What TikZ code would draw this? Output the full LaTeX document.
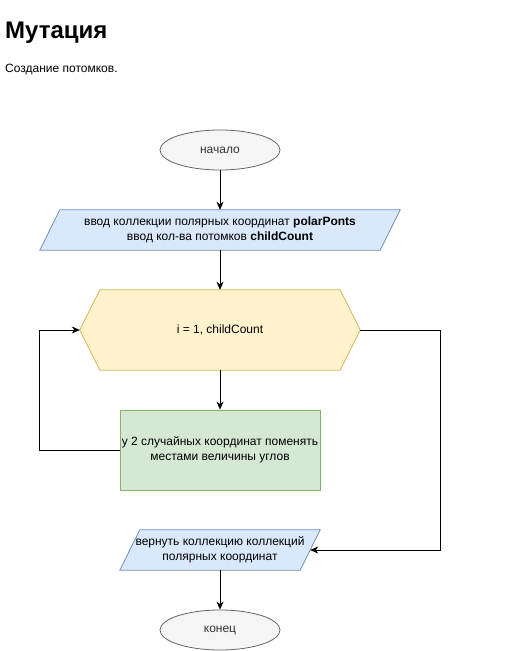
\documentclass[tikz,border=0pt]{standalone}
\usepackage{fontspec}
\setmainfont{Liberation Sans}
\usetikzlibrary{arrows.meta,shapes.geometric,calc}
\pgfdeclarelayer{background}
\pgfsetlayers{background,main}

\definecolor{termfill}{HTML}{F5F5F5}
\definecolor{termline}{HTML}{666666}
\definecolor{termtext}{HTML}{333333}
\definecolor{iofill}{HTML}{DAE8FC}
\definecolor{ioline}{HTML}{6C8EBF}
\definecolor{loopfill}{HTML}{FFF2CC}
\definecolor{loopline}{HTML}{D6B656}
\definecolor{actfill}{HTML}{D5E8D4}
\definecolor{actline}{HTML}{82B366}

\begin{document}
\begin{tikzpicture}[x=1pt,y=-1pt,
  every node/.style={font=\fontsize{12}{15}\selectfont, align=center, inner sep=0pt},
  terminal/.style={ellipse, draw=termline, fill=termfill, text=termtext,
    minimum width=120pt, minimum height=40pt, line width=0.8pt},
  frame/.style 2 args={rectangle, minimum width=#1, minimum height=#2},
  actbox/.style={rectangle, draw=actline, fill=actfill, line width=0.8pt,
    minimum width=200pt, minimum height=80pt},
  ioshape/.style={fill=iofill, draw=ioline, line width=0.8pt},
  loopshape/.style={fill=loopfill, draw=loopline, line width=0.8pt},
  flow/.style={draw=black, line width=0.8pt,
    -{Stealth[length=8pt,width=7pt,inset=2.5pt]}}
]
\useasboundingbox (0,0) rectangle (520,651);

% heading
\node[anchor=base west, font=\fontsize{24}{28}\selectfont\bfseries] (title) at (5,38) {Мутация};
\node[anchor=base west] (subtitle) at (5,72) {Создание потомков.};

% flowchart nodes
\node[terminal] (start) at (220,150) {начало};
\node[frame={340pt}{40pt}] (in) at (220,230)
  {ввод коллекции полярных координат \textbf{polarPonts}\\ввод кол-ва потомков \textbf{childCount}};
\node[frame={280pt}{80pt}] (loop) at (220,330) {i = 1, childCount};
\node[actbox] (act) at (220,450) {у 2 случайных координат поменять\\местами величины углов};
\node[frame={180pt}{40pt}] (out) at (220,550) {вернуть коллекцию коллекций\\полярных координат};
\node[terminal] (end) at (220,630) {конец};

% parallelograms and loop hexagon behind the texts
\begin{pgfonlayer}{background}
  \filldraw[ioshape] ($(in.north west)+(10,0)$) -- ($(in.north east)+(10,0)$)
    -- ($(in.south east)+(-10,0)$) -- ($(in.south west)+(-10,0)$) -- cycle;
  \filldraw[ioshape] ($(out.north west)+(10,0)$) -- ($(out.north east)+(10,0)$)
    -- ($(out.south east)+(-10,0)$) -- ($(out.south west)+(-10,0)$) -- cycle;
  \filldraw[loopshape] (loop.west) -- ($(loop.north west)+(20,0)$)
    -- ($(loop.north east)+(-20,0)$) -- (loop.east)
    -- ($(loop.south east)+(-20,0)$) -- ($(loop.south west)+(20,0)$) -- cycle;
\end{pgfonlayer}

% connectors
\draw[flow] (start) -- (in);
\draw[flow] (in) -- (loop);
\draw[flow] (loop) -- (act);
\draw[flow] (act.west) -- ++(-80,0) |- (loop.west);
\draw[flow] (loop.east) -- ++(80,0) |- (out.east);
\draw[flow] (out) -- (end);
\end{tikzpicture}
\end{document}
